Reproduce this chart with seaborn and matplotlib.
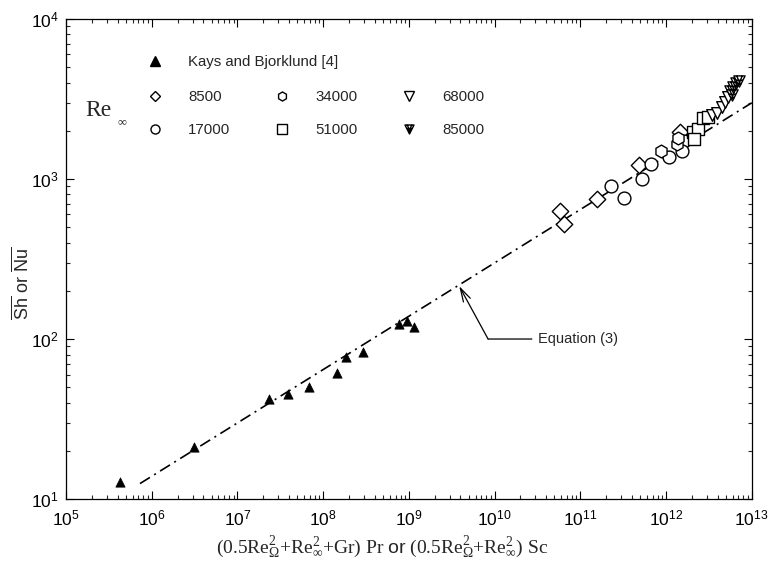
import numpy as np
import pandas as pd
import matplotlib
matplotlib.use('Agg')
import matplotlib.pyplot as plt
from matplotlib.lines import Line2D
from matplotlib.path import Path
from matplotlib.ticker import LogLocator, NullFormatter
import seaborn as sns

# Kays and Bjorklund [4] reference data
kays_x = [4.3e5, 3.14e6, 2.32e7, 3.9e7, 6.9e7, 1.44e8, 1.87e8, 2.95e8, 7.7e8, 9.5e8, 1.15e9]
kays_y = [12.8, 21.2, 42.2, 45.1, 49.9, 61.5, 76.7, 82.6, 123.6, 129.0, 119.5]

# present data, one set per Re_inf
re8500_x = [5.73e10, 6.38e10, 1.57e11, 4.81e11, 1.45e12]
re8500_y = [634, 523, 750, 1223, 1966]
re17000_x = [2.26e11, 3.21e11, 5.31e11, 6.76e11, 1.08e12, 1.63e12, 1.52e12]
re17000_y = [904, 757, 1000, 1236, 1368, 1733, 1503]
re34000_x = [8.85e11, 1.33e12, 1.39e12]
re34000_y = [1503, 1655, 1795]
re51000_x = [2.08e12, 2.38e12, 2.14e12, 2.72e12, 3.06e12]
re51000_y = [1977, 2046, 1771, 2392, 2423]
re68000_x = [3.40e12, 3.90e12, 4.46e12, 4.87e12, 5.34e12]
re68000_y = [2512, 2576, 2833, 3044, 3268]
re85000_x = [5.57e12, 5.83e12, 6.10e12, 6.50e12, 7.05e12]
re85000_y = [3548, 3350, 3776, 3963, 4098]

# Equation (3) line end points
eq_x = [7.3e5, 1.0e13]
eq_y = [12.5, 2990]

sns.set_style('ticks')
plt.rcParams['font.family'] = ['Liberation Sans', 'DejaVu Sans']
plt.rcParams['mathtext.fontset'] = 'custom'
plt.rcParams['mathtext.rm'] = 'Liberation Serif'
plt.rcParams['mathtext.it'] = 'Liberation Serif:italic'
plt.rcParams['mathtext.sf'] = 'Liberation Sans'

# down triangle with hatching for Re = 85000
tri = [(-1, 1), (1, 1), (0, -1), (-1, 1)]
hatch = [(-0.6, 0.2), (0.6, 0.2), (-0.3, -0.4), (0.3, -0.4), (-0.5, 1), (0.2, -0.6), (0.5, 1), (-0.2, -0.6)]
verts = tri + hatch
codes = [Path.MOVETO, Path.LINETO, Path.LINETO, Path.CLOSEPOLY] + [Path.MOVETO, Path.LINETO] * 4
hatched_tri = Path(verts, codes)

groups = [
    ('8500', re8500_x, re8500_y, 'D', 70),
    ('17000', re17000_x, re17000_y, 'o', 85),
    ('34000', re34000_x, re34000_y, 'h', 85),
    ('51000', re51000_x, re51000_y, 's', 65),
    ('68000', re68000_x, re68000_y, 'v', 70),
    ('85000', re85000_x, re85000_y, hatched_tri, 65),
]

fig, ax = plt.subplots(figsize=(7.71, 5.73), dpi=100)
fig.subplots_adjust(left=0.0856, right=0.975, top=0.967, bottom=0.129)

sns.lineplot(x=eq_x, y=eq_y, color='black', lw=1.2, linestyle=(0, (7, 3, 1.2, 3)), ax=ax)

sns.scatterplot(x=kays_x, y=kays_y, marker='^', s=45, color='black', edgecolor='black', linewidth=0.5, ax=ax, zorder=3)
for name, gx, gy, mk, sz in groups:
    sns.scatterplot(x=gx, y=gy, marker=mk, s=sz, facecolor='white', edgecolor='black', linewidth=1.0, ax=ax, zorder=3)

ax.set_xscale('log')
ax.set_yscale('log')
ax.set_xlim(1e5, 1e13)
ax.set_ylim(10, 1e4)
ax.set_xticks([10.0 ** k for k in range(5, 14)])
ax.set_yticks([10.0 ** k for k in range(1, 5)])
ax.xaxis.set_minor_locator(LogLocator(base=10, subs=np.arange(2, 10), numticks=100))
ax.yaxis.set_minor_locator(LogLocator(base=10, subs=np.arange(2, 10), numticks=100))
ax.xaxis.set_minor_formatter(NullFormatter())
ax.yaxis.set_minor_formatter(NullFormatter())
ax.tick_params(which='major', direction='in', length=6, width=0.8, top=True, right=True, labelsize=12.5, colors='black')
ax.tick_params(axis='x', which='major', pad=7)
ax.tick_params(axis='y', which='major', pad=5)
ax.tick_params(which='minor', direction='in', length=3, width=0.8, top=True, right=True)
for sp in ax.spines.values():
    sp.set_linewidth(0.9)
    sp.set_color('black')

ax.set_xlabel(r'(0.5Re$^2_\Omega$+Re$^2_\infty$+Gr) Pr $\mathsf{or}$ (0.5Re$^2_\Omega$+Re$^2_\infty$) Sc',
              family='Liberation Serif', fontsize=14)
ax.xaxis.set_label_coords(0.461, -0.072)
ax.set_ylabel(r'$\overline{\mathsf{Sh}}$ or $\overline{\mathsf{Nu}}$', fontsize=13)
ax.yaxis.set_label_coords(-0.048, 0.45)

# Equation (3) annotation
ax.annotate('', xy=(3.87e9, 214), xytext=(8.4e9, 100),
            arrowprops=dict(arrowstyle='->,head_length=0.7,head_width=0.2', color='black', lw=0.9,
                            shrinkA=0, shrinkB=0, mutation_scale=14))
ax.annotate('Equation (3)', xy=(8.4e9, 100), xytext=(3.2e10, 100), va='center', ha='left', fontsize=10.5,
            arrowprops=dict(arrowstyle='-', color='black', lw=0.9, shrinkA=2, shrinkB=0))

# legends
kays_handle = [Line2D([], [], marker='^', color='black', ls='none', markersize=6.5)]
leg1 = ax.legend(kays_handle, ['Kays and Bjorklund [4]'], loc='upper left', bbox_to_anchor=(0.119, 0.925),
                 frameon=False, fontsize=10.8, borderpad=0, borderaxespad=0, handlelength=1.0,
                 handletextpad=1.7)
ax.add_artist(leg1)
re_handles = [Line2D([], [], marker=mk, color='black', markerfacecolor='white', ls='none',
                     markersize=6.5 if mk != 'D' else 5.5, markeredgewidth=1.0)
              for name, gx, gy, mk, sz in groups]
ax.legend(re_handles, [g[0] for g in groups], ncol=3, loc='upper left', bbox_to_anchor=(0.119, 0.852),
          frameon=False, fontsize=10.8, borderpad=0, borderaxespad=0, handlelength=1.0,
          handletextpad=1.7, columnspacing=2.95, labelspacing=1.3)

ax.text(0.028, 0.81, 'Re', transform=ax.transAxes, family='Liberation Serif', fontsize=17, va='center')
ax.text(0.074, 0.785, r'$\infty$', transform=ax.transAxes, fontsize=9, va='center')

fig.savefig('out.png', dpi=100)
